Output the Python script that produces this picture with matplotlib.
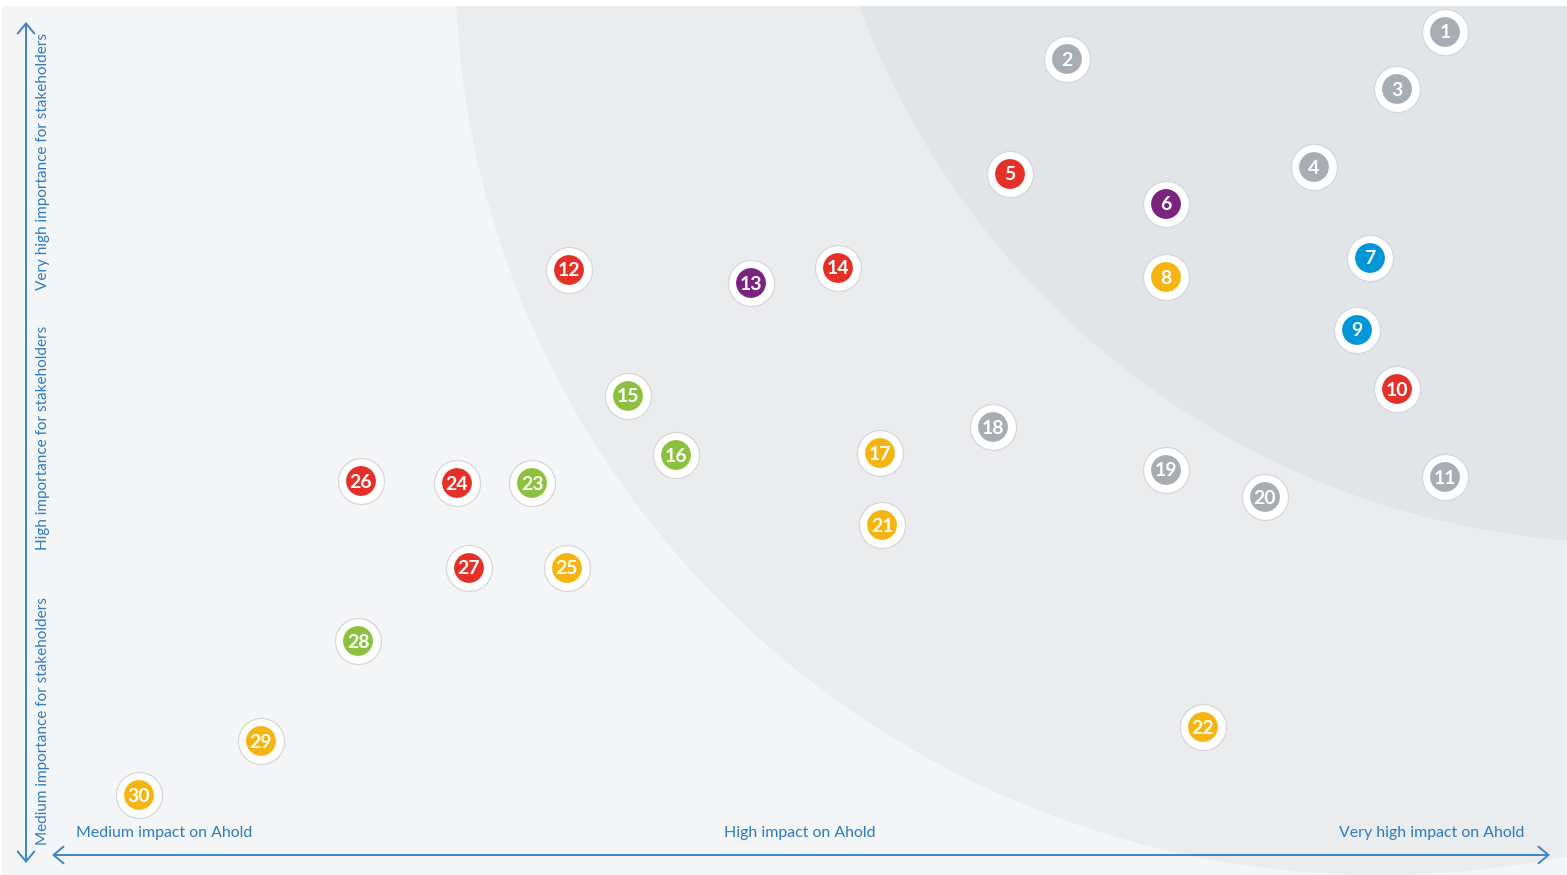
import matplotlib
matplotlib.use("Agg")
import matplotlib.pyplot as plt
from matplotlib.patches import Rectangle, Circle, Ellipse

# ---- data (impact on Ahold -> x, importance for stakeholders -> y) ----
ids = list(range(1, 31))
impact = [1445, 1067, 1397, 1314, 1010, 1166, 1370, 1166, 1357, 1397,
          1445, 569, 751, 838, 628, 676, 880, 993, 1166, 1265,
          882, 1203, 532, 457, 567, 361, 469, 358, 261, 139]
importance = [32, 59, 89, 167, 174, 204, 258, 277, 330, 389,
              477, 270, 283, 268, 396, 455, 453, 427, 470, 497,
              525, 727, 483, 483, 568, 481, 568, 641, 741, 795]
groups = ["gray", "gray", "gray", "gray", "red", "purple", "blue", "yellow", "blue", "red",
          "gray", "red", "purple", "red", "green", "green", "yellow", "gray", "gray", "gray",
          "yellow", "yellow", "green", "red", "yellow", "red", "red", "green", "yellow", "yellow"]
x_labels = ["Medium impact on Ahold", "High impact on Ahold", "Very high impact on Ahold"]
y_labels = ["Medium importance for stakeholders", "High importance for stakeholders",
            "Very high importance for stakeholders"]

palette = {"gray": "#a8adb3", "red": "#e63027", "purple": "#7a237f",
           "blue": "#0096d8", "yellow": "#f6b411", "green": "#8bc13e"}
txt_col = "#2c7bc1"
line_col = "#3a86c9"
font = ["Lato", "DejaVu Sans"]

W, H = 1567, 875
fig = plt.figure(figsize=(W / 100, H / 100), dpi=100)
fig.patch.set_facecolor("white")
ax = fig.add_axes([0, 0, 1, 1])
ax.set_xlim(0, W)
ax.set_ylim(H, 0)
ax.axis("off")

# background zones
panel = Rectangle((2, 6), W - 2, H - 6, facecolor="#f4f5f7", edgecolor="none", zorder=0)
ax.add_patch(panel)
mid = Ellipse((1380, -40), 2 * 925, 2 * 915, facecolor="#ebecee", edgecolor="none", zorder=1)
ax.add_patch(mid)
mid.set_clip_path(panel)
inner = Circle((1631, -280), 823, facecolor="#e2e5e8", edgecolor="none", zorder=2)
ax.add_patch(inner)
inner.set_clip_path(panel)

# axes arrows
arrow_kw = dict(arrowstyle="<->,head_length=0.72,head_width=0.6", color=line_col, lw=1.4,
                shrinkA=0, shrinkB=0)
ax.annotate("", xy=(26, 22), xytext=(26, 863), arrowprops=arrow_kw, zorder=3)
ax.annotate("", xy=(52, 855), xytext=(1550, 855), arrowprops=arrow_kw, zorder=3)

# axis labels
fs = 11.4
ax.text(76, 833, x_labels[0], ha="left", va="center", color=txt_col, fontsize=fs, family=font, zorder=4)
ax.text(800, 833, x_labels[1], ha="center", va="center", color=txt_col, fontsize=fs, family=font, zorder=4)
ax.text(1524, 833, x_labels[2], ha="right", va="center", color=txt_col, fontsize=fs, family=font, zorder=4)
for ystart, lab in zip([845, 550, 290], y_labels):
    ax.text(43, ystart, lab, ha="left", va="center", rotation=90, rotation_mode="anchor",
            color=txt_col, fontsize=11.0, family=font, zorder=4)

# markers
cols = [palette[g] for g in groups]
ax.scatter(impact, importance, s=1100, facecolor="white", edgecolor="#d4d7db", linewidth=0.9, zorder=5)
ax.scatter(impact, importance, s=460, facecolor=cols, edgecolor="none", zorder=6)
for i, xv, yv in zip(ids, impact, importance):
    ax.text(xv, yv + 1, str(i), ha="center", va="center", color="white", fontsize=14,
            fontweight="bold", family=font, zorder=7)

fig.savefig("out.png", dpi=100, facecolor="white")
